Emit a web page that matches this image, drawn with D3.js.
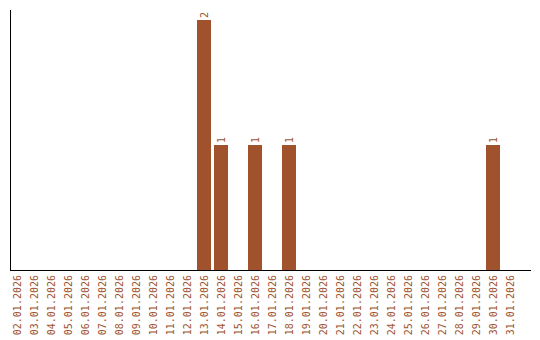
<!doctype html>
<html>
<head>
<script src="https://d3js.org/d3.v7.min.js"></script>
<style>
  body { margin: 0; background: #fff; }
  text { font-family: "DejaVu Sans Mono", monospace; font-size: 10px; fill: #a0522d; }
</style>
</head>
<body>
<svg width="540" height="340"></svg>
<script>
var days = ["02.01.2026","03.01.2026","04.01.2026","05.01.2026","06.01.2026","07.01.2026",
            "08.01.2026","09.01.2026","10.01.2026","11.01.2026","12.01.2026","13.01.2026",
            "14.01.2026","15.01.2026","16.01.2026","17.01.2026","18.01.2026","19.01.2026",
            "20.01.2026","21.01.2026","22.01.2026","23.01.2026","24.01.2026","25.01.2026",
            "26.01.2026","27.01.2026","28.01.2026","29.01.2026","30.01.2026","31.01.2026"];
var counts = [0,0,0,0,0,0,0,0,0,0,0,2,1,0,1,0,1,0,0,0,0,0,0,0,0,0,0,0,1,0];

var svg = d3.select("svg");
var x = d3.scaleBand().domain(days).range([10, 520])
    .paddingInner(3/17).paddingOuter(1.5/17).align(0);
var y = d3.scaleLinear().domain([0, 2]).range([270, 20]);

var data = days.map(function(d, i) { return {day: d, n: counts[i]}; });

// bars
svg.append("g").selectAll("rect")
  .data(data.filter(function(d) { return d.n > 0; }))
  .enter().append("rect")
    .attr("x", function(d) { return x(d.day); })
    .attr("y", function(d) { return y(d.n); })
    .attr("width", x.bandwidth())
    .attr("height", function(d) { return y(0) - y(d.n); })
    .attr("fill", "#a0522d");

// value labels
svg.append("g").selectAll("text")
  .data(data.filter(function(d) { return d.n > 0; }))
  .enter().append("text")
    .attr("transform", function(d) {
      return "translate(" + (x(d.day) + x.bandwidth() / 2 + 3.5) + "," + (y(d.n) - 2) + ") rotate(-90)";
    })
    .text(function(d) { return d.n; });

// date labels
svg.append("g").selectAll("text")
  .data(days)
  .enter().append("text")
    .attr("text-anchor", "end")
    .attr("transform", function(d) {
      return "translate(" + (x(d) + x.bandwidth() / 2 + 3.5) + ",275) rotate(-90)";
    })
    .text(function(d) { return d; });

// axes lines
svg.append("line").attr("x1", 10.5).attr("x2", 10.5).attr("y1", 10).attr("y2", 270)
  .attr("stroke", "#000");
svg.append("line").attr("x1", 10).attr("x2", 531).attr("y1", 270.5).attr("y2", 270.5)
  .attr("stroke", "#000");
</script>
</body>
</html>
